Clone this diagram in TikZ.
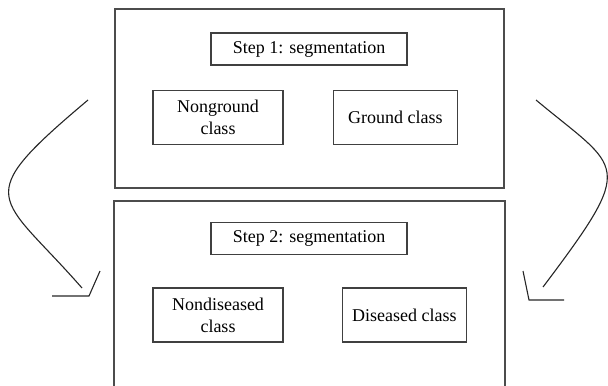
\documentclass[tikz,border=0pt]{standalone}
\usepackage{fontspec}
\setmainfont{Liberation Serif}
\usetikzlibrary{positioning}

\begin{document}
\begin{tikzpicture}[
  x=0.5pt, y=-0.5pt,
  node distance=12pt and 24.5pt,
  panel/.style={draw=black!70, line width=1pt, minimum width=194.5pt, inner sep=0pt},
  stepbox/.style={draw=black!75, line width=0.7pt, minimum width=98pt, minimum height=16pt,
                  inner sep=0pt, font=\fontsize{9}{11}\selectfont},
  classbox/.style={draw=black!75, line width=0.7pt, minimum height=27pt, align=center,
                   inner sep=0pt, font=\fontsize{9}{11}\selectfont},
  curve/.style={black!85, line width=0.55pt},
  head/.style={black!85, line width=0.55pt},
]
\useasboundingbox (0,0) rectangle (608,385);

% ---------- Step 1 panel ----------
\node[panel, minimum height=89.5pt] (panelA) at (309.5,98.5) {};
\node[stepbox] (step1) at (309,49) {Step 1: segmentation};
\node[classbox, minimum width=65pt, below=12pt of step1, xshift=-45.5pt] (nonground) {Nonground\\class};
\node[classbox, minimum width=62pt, right=of nonground] (ground) {Ground class};

% ---------- Step 2 panel (open at the bottom) ----------
\node[panel, draw=none, minimum height=91.5pt] (panelB) at (309.5,293.5) {};
\draw[black!70, line width=1pt] (panelB.south west) |- (panelB.north east) -- (panelB.south east);
\node[stepbox] (step2) at (309,238.5) {Step 2: segmentation};
\node[classbox, minimum width=65pt, below=16pt of step2, xshift=-45.5pt] (nondiseased) {Nondiseased\\class};
\node[classbox, minimum width=62pt, right=29pt of nondiseased] (diseased) {Diseased class};

% ---------- Curved arrows ----------
\coordinate (lstart) at (88,100);
\coordinate (lend) at (82,288);
\coordinate (rstart) at (536,100);
\coordinate (rend) at (543,287);

\draw[curve] (lstart) .. controls (-32,201) and (-1,193) .. (lend);
\draw[head] (100,271) -- (89,296) -- (52,296);

\draw[curve] (rstart) .. controls (621,171) and (638,161) .. (rend);
\draw[head] (523,271) -- (529,300) -- (564,300);

\end{tikzpicture}
\end{document}
